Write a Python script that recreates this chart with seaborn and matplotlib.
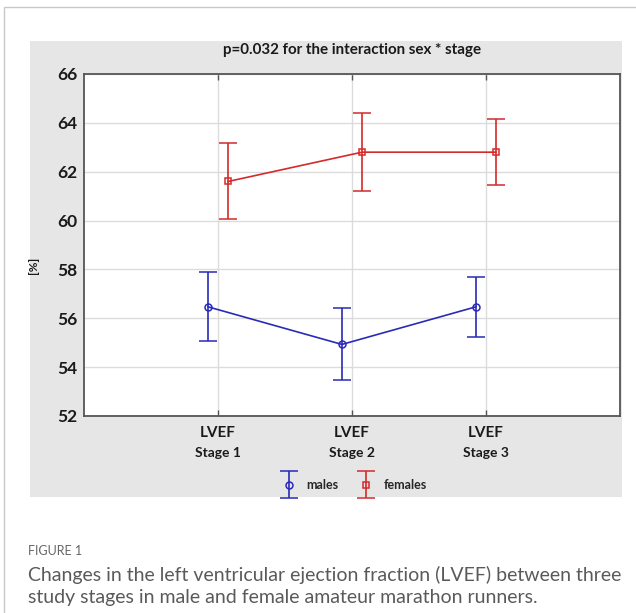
import numpy as np
import pandas as pd
import matplotlib
matplotlib.use("Agg")
import matplotlib.pyplot as plt
from matplotlib.patches import Rectangle
from matplotlib.legend_handler import HandlerErrorbar
import seaborn as sns

# ---- data ----
stages = ["Stage 1", "Stage 2", "Stage 3"]
tick_labels = ["LVEF\nStage 1", "LVEF\nStage 2", "LVEF\nStage 3"]
males_mean = [56.47, 54.93, 56.47]
males_lo = [55.06, 53.47, 55.22]
males_hi = [57.90, 56.44, 57.71]
females_mean = [61.60, 62.80, 62.80]
females_lo = [60.08, 61.20, 61.44]
females_hi = [63.16, 64.41, 64.16]
yticks = [52, 54, 56, 58, 60, 62, 64, 66]
title = "p=0.032 for the interaction sex * stage"

sns.set_theme(style="white")
plt.rcParams["font.family"] = ["Lato", "DejaVu Sans"]

fig = plt.figure(figsize=(6.36, 6.13), dpi=100)

# outer frame and gray panel
fig.patches.append(Rectangle((4/636, -0.05), 1.2, 1 - 7/613 + 0.05, transform=fig.transFigure,
                             fill=False, edgecolor="#c8c8c8", lw=1.0, zorder=-2))
fig.patches.append(Rectangle((30/636, 1 - 497/613), 592/636, 456/613, transform=fig.transFigure,
                             facecolor="#e6e6e6", edgecolor="none", zorder=-1))

ax = fig.add_axes([84/636, 1 - 416/613, 536/636, 342/613])
ax.set_zorder(2)
ax.set_facecolor("white")

offset = 0.075
rows = []
for i, s in enumerate(stages):
    rows.append(dict(stage=s, xpos=i + 1 - offset, sex="males", mean=males_mean[i], lo=males_lo[i], hi=males_hi[i]))
    rows.append(dict(stage=s, xpos=i + 1 + offset, sex="females", mean=females_mean[i], lo=females_lo[i], hi=females_hi[i]))
df = pd.DataFrame(rows)

colors = {"males": "#2a2ab8", "females": "#d42a2a"}
markers = {"males": "o", "females": "s"}

sns.lineplot(data=df, x="xpos", y="mean", hue="sex", palette=colors, lw=1.2,
             ax=ax, legend=False, sort=True, zorder=3)

handles = []
for sex in ["males", "females"]:
    d = df[df.sex == sex]
    h = ax.errorbar(d.xpos, d["mean"], yerr=[d["mean"] - d.lo, d.hi - d["mean"]],
                    ls="none", marker=markers[sex], ms=5, mfc="none", mec=colors[sex],
                    mew=1.1, ecolor=colors[sex], elinewidth=1.2, capsize=6.5, capthick=1.2,
                    color=colors[sex], zorder=4, label=sex)
    handles.append(h)

ax.set_xlim(0, 4)
ax.set_ylim(52, 66)
ax.set_xticks([1, 2, 3])
ax.set_xticklabels([])
ax.set_yticks(yticks)
ax.set_yticklabels([str(v) for v in yticks], fontsize=12.5, fontweight="bold", color="#1a1a1a")
ax.grid(True, color="#dcdcdc", lw=1.0)
ax.set_axisbelow(True)
ax.tick_params(axis="x", direction="in", top=True, bottom=True, length=4, width=1, color="#555555")
ax.tick_params(axis="y", length=0, pad=5)
for sp in ax.spines.values():
    sp.set_color("#555555")
    sp.set_linewidth(1.3)
    sp.set_visible(True)
ax.set_xlabel("")
ax.set_ylabel("")

# x tick labels (two lines)
for i, s in enumerate(stages):
    ax.text(i + 1, -0.03, "LVEF", transform=ax.get_xaxis_transform(), ha="center", va="top",
            fontsize=11, fontweight="bold", color="#1a1a1a")
    ax.text(i + 1, -0.09, s, transform=ax.get_xaxis_transform(), ha="center", va="top",
            fontsize=10, fontweight="bold", color="#1a1a1a")

fig.text(352/636, 1 - 50/613, title, ha="center", va="center", fontsize=10.9, fontweight="bold", color="#1a1a1a")
fig.text(34/636, 1 - 265/613, "[%]", ha="center", va="center", rotation=90, fontsize=8.5,
         fontweight="bold", color="#1a1a1a")

fig.legend(handles=handles, labels=["males", "females"], loc="center",
           bbox_to_anchor=(354/636, 1 - 485/613), ncol=2, frameon=False,
           prop=dict(size=9, weight="bold"), handlelength=1.2, handletextpad=0.8, columnspacing=1.6,
           handler_map={type(handles[0]): HandlerErrorbar(xerr_size=0.5, yerr_size=1.1)})

fig.text(28/636, 1 - 551/613, "FIGURE 1", ha="left", va="center", fontsize=9, color="#666666")
fig.text(28/636, 1 - 575/613, "Changes in the left ventricular ejection fraction (LVEF) between three",
         ha="left", va="center", fontsize=14.0, color="#5a5a5a")
fig.text(28/636, 1 - 598/613, "study stages in male and female amateur marathon runners.",
         ha="left", va="center", fontsize=14.0, color="#5a5a5a")

fig.savefig("out.png", dpi=100)
